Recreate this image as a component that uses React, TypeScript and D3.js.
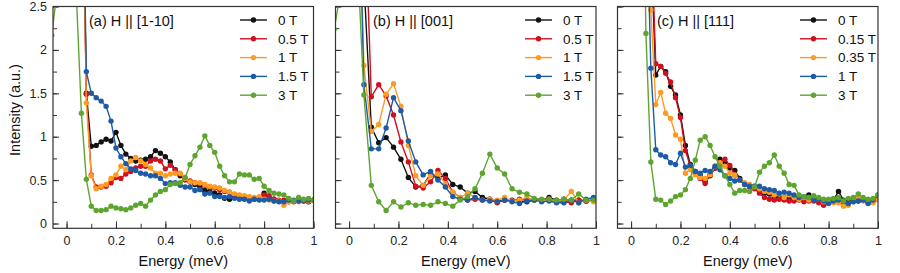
import React, { useEffect, useRef } from 'react';
import * as d3 from 'd3';

// energy grids (meV) for each panel
const energyA = [-0.06, -0.04, -0.02, 0, 0.02, 0.04, 0.06, 0.08, 0.1, 0.12, 0.14, 0.16, 0.18, 0.2, 0.22, 0.24, 0.26, 0.28, 0.3, 0.32, 0.34, 0.36, 0.38, 0.4, 0.42, 0.44, 0.46, 0.48, 0.5, 0.52, 0.54, 0.56, 0.58, 0.6, 0.62, 0.64, 0.66, 0.68, 0.7, 0.72, 0.74, 0.76, 0.78, 0.8, 0.82, 0.84, 0.86, 0.88, 0.9, 0.92, 0.94, 0.96, 0.98, 1.0];
const energyB = [-0.06, -0.03, 0, 0.03, 0.06, 0.09, 0.12, 0.15, 0.18, 0.21, 0.24, 0.27, 0.3, 0.33, 0.36, 0.39, 0.42, 0.45, 0.48, 0.51, 0.54, 0.57, 0.6, 0.63, 0.66, 0.69, 0.72, 0.75, 0.78, 0.81, 0.84, 0.87, 0.9, 0.93, 0.96, 0.99];
const energyC = [0.04, 0.06, 0.08, 0.1, 0.12, 0.14, 0.16, 0.18, 0.2, 0.22, 0.24, 0.26, 0.28, 0.3, 0.32, 0.34, 0.36, 0.38, 0.4, 0.42, 0.44, 0.46, 0.48, 0.5, 0.52, 0.54, 0.56, 0.58, 0.6, 0.62, 0.64, 0.66, 0.68, 0.7, 0.72, 0.74, 0.76, 0.78, 0.8, 0.82, 0.84, 0.86, 0.88, 0.9, 0.92, 0.94, 0.96, 0.98, 1.0];

const fieldsAB = ['0 T', '0.5 T', '1 T', '1.5 T', '3 T'];
const fieldsC = ['0 T', '0.15 T', '0.35 T', '1 T', '3 T'];
const colors = ['#111111', '#d0101e', '#ff9b21', '#1d5ba6', '#5ea52f'];

// (a) H || [1-10]
const a0 = [null, null, null, null, null, null, 5, 1.5, 0.89, 0.9, 0.94, 0.97, 0.95, 1.05, 0.9, 0.8, 0.75, 0.72, 0.73, 0.74, 0.77, 0.84, 0.81, 0.77, 0.71, 0.62, 0.55, 0.52, 0.48, 0.45, 0.42, 0.38, 0.37, 0.35, 0.33, 0.29, 0.28, 0.3, 0.31, 0.31, 0.29, 0.29, 0.3, 0.35, 0.3, 0.28, 0.26, 0.26, 0.27, 0.26, 0.27, 0.26, 0.25, 0.27];
const a05 = [null, null, null, null, null, null, 5, 1.49, 0.56, 0.42, 0.42, 0.43, 0.47, 0.53, 0.52, 0.57, 0.6, 0.64, 0.66, 0.66, 0.72, 0.74, 0.72, 0.63, 0.67, 0.62, 0.57, 0.5, 0.49, 0.47, 0.46, 0.44, 0.42, 0.41, 0.39, 0.37, 0.36, 0.33, 0.32, 0.31, 0.3, 0.28, 0.28, 0.33, 0.32, 0.28, 0.27, 0.27, 0.25, 0.25, 0.26, 0.27, 0.26, 0.27];
const a1 = [null, null, null, null, null, null, 5, 1.39, 0.55, 0.4, 0.43, 0.45, 0.52, 0.56, 0.66, 0.62, 0.72, 0.76, 0.72, 0.68, 0.64, 0.58, 0.58, 0.55, 0.57, 0.58, 0.58, 0.52, 0.48, 0.47, 0.47, 0.45, 0.43, 0.42, 0.41, 0.38, 0.36, 0.34, 0.33, 0.32, 0.31, 0.3, 0.31, 0.28, 0.27, 0.26, 0.26, 0.21, 0.25, 0.26, 0.25, 0.27, 0.26, 0.27];
const a15 = [null, null, null, null, null, null, 5, 1.75, 1.5, 1.45, 1.41, 1.35, 1.18, 0.87, 0.77, 0.69, 0.63, 0.61, 0.58, 0.57, 0.55, 0.55, 0.52, 0.46, 0.47, 0.47, 0.44, 0.42, 0.42, 0.38, 0.39, 0.34, 0.35, 0.31, 0.31, 0.3, 0.31, 0.29, 0.28, 0.28, 0.26, 0.28, 0.27, 0.27, 0.28, 0.26, 0.25, 0.25, 0.27, 0.27, 0.26, 0.27, 0.27, 0.27];
const a3 = [2.17, 2.65, 3.5, 4, 3.5, 2.6, 1.27, 0.51, 0.2, 0.15, 0.15, 0.16, 0.2, 0.18, 0.17, 0.16, 0.18, 0.21, 0.23, 0.2, 0.27, 0.33, 0.37, 0.39, 0.45, 0.46, 0.47, 0.53, 0.68, 0.78, 0.88, 1.01, 0.9, 0.82, 0.66, 0.55, 0.48, 0.48, 0.57, 0.56, 0.56, 0.51, 0.52, 0.43, 0.38, 0.35, 0.34, 0.33, 0.29, 0.26, 0.3, 0.28, 0.29, 0.27];

// (b) H || [001]
const b0 = [null, null, null, 5, 2.8, 1.11, 0.93, 0.99, 0.88, 0.74, 0.53, 0.42, 0.44, 0.57, 0.52, 0.56, 0.45, 0.42, 0.35, 0.37, 0.3, 0.28, 0.26, 0.27, 0.27, 0.26, 0.25, 0.27, 0.27, 0.3, 0.27, 0.28, 0.27, 0.27, 0.26, 0.27];
const b05 = [null, null, null, 6, 4, 1.46, 1.6, 1.47, 1.25, 0.94, 0.71, 0.43, 0.41, 0.48, 0.61, 0.52, 0.36, 0.3, 0.27, 0.28, 0.27, 0.28, 0.24, 0.27, 0.26, 0.28, 0.27, 0.27, 0.27, 0.28, 0.26, 0.25, 0.24, 0.27, 0.26, 0.27];
const b1 = [null, null, null, 5, 1.82, 1.06, 1.14, 1.49, 1.61, 1.35, 0.9, 0.55, 0.44, 0.55, 0.57, 0.46, 0.36, 0.3, 0.35, 0.3, 0.27, 0.28, 0.27, 0.3, 0.26, 0.27, 0.3, 0.27, 0.26, 0.28, 0.26, 0.27, 0.37, 0.24, 0.27, 0.25];
const b15 = [null, null, null, 5, 1.6, 0.86, 0.86, 1.1, 1.45, 1.3, 0.95, 0.71, 0.56, 0.6, 0.5, 0.42, 0.31, 0.28, 0.27, 0.3, 0.27, 0.26, 0.25, 0.27, 0.25, 0.23, 0.26, 0.27, 0.25, 0.26, 0.24, 0.24, 0.27, 0.24, 0.28, 0.3];
const b3 = [2.24, 2.75, 4, 3.3, 1.48, 0.44, 0.25, 0.15, 0.25, 0.19, 0.24, 0.21, 0.22, 0.21, 0.25, 0.23, 0.2, 0.27, 0.31, 0.4, 0.58, 0.8, 0.64, 0.57, 0.4, 0.36, 0.34, 0.29, 0.28, 0.28, 0.27, 0.28, 0.27, 0.34, 0.27, 0.27];

// (c) H || [111]
const c0 = [null, 6, 3.2, 1.71, 1.81, 1.75, 1.58, 1.48, 1.25, 0.9, 0.68, 0.6, 0.55, 0.48, 0.55, 0.64, 0.74, 0.7, 0.64, 0.61, 0.52, 0.46, 0.44, 0.42, 0.38, 0.35, 0.34, 0.3, 0.31, 0.3, 0.29, 0.28, 0.29, 0.29, 0.33, 0.3, 0.28, 0.27, 0.26, 0.27, 0.37, 0.27, 0.25, 0.27, 0.29, 0.28, 0.26, 0.27, 0.3];
const c015 = [null, 6, 3.5, 1.84, 1.81, 1.73, 1.63, 1.45, 1.22, 0.84, 0.66, 0.58, 0.52, 0.46, 0.57, 0.64, 0.7, 0.74, 0.67, 0.56, 0.5, 0.45, 0.42, 0.4, 0.35, 0.3, 0.28, 0.27, 0.28, 0.27, 0.26, 0.26, 0.27, 0.25, 0.26, 0.26, 0.24, 0.21, 0.24, 0.26, 0.25, 0.24, 0.23, 0.26, 0.26, 0.27, 0.24, 0.26, 0.28];
const c035 = [null, 4, 2.46, 1.37, 1.51, 1.27, 1.21, 1.02, 0.97, 0.58, 0.62, 0.56, 0.53, 0.52, 0.56, 0.66, 0.7, 0.66, 0.58, 0.56, 0.5, 0.47, 0.45, 0.43, 0.4, 0.37, 0.36, 0.33, 0.34, 0.3, 0.33, 0.3, 0.28, 0.3, 0.27, 0.29, 0.28, 0.25, 0.26, 0.24, 0.24, 0.2, 0.21, 0.25, 0.3, 0.26, 0.27, 0.24, 0.27];
const c1 = [null, 4, 1.79, 0.85, 0.79, 0.77, 0.7, 0.68, 0.81, 0.65, 0.67, 0.6, 0.58, 0.61, 0.6, 0.66, 0.62, 0.55, 0.52, 0.49, 0.5, 0.45, 0.43, 0.43, 0.43, 0.4, 0.39, 0.38, 0.35, 0.36, 0.35, 0.33, 0.3, 0.31, 0.3, 0.27, 0.28, 0.26, 0.23, 0.26, 0.27, 0.26, 0.23, 0.25, 0.26, 0.27, 0.23, 0.27, 0.33];
const c3 = [6, 2.19, 0.71, 0.28, 0.27, 0.22, 0.26, 0.31, 0.33, 0.39, 0.52, 0.73, 0.96, 1.0, 0.9, 0.77, 0.66, 0.55, 0.45, 0.35, 0.38, 0.38, 0.37, 0.42, 0.59, 0.66, 0.7, 0.79, 0.66, 0.58, 0.45, 0.44, 0.33, 0.31, 0.3, 0.32, 0.3, 0.28, 0.28, 0.29, 0.3, 0.26, 0.29, 0.3, 0.34, 0.3, 0.28, 0.29, 0.33];

const xMajor = [0, 0.2, 0.4, 0.6, 0.8, 1];
const xMinor = [0, 0.1, 0.2, 0.3, 0.4, 0.5, 0.6, 0.7, 0.8, 0.9, 1];
const yMajor = [0, 0.5, 1, 1.5, 2, 2.5];
const yMinor = [0, 0.25, 0.5, 0.75, 1, 1.25, 1.5, 1.75, 2, 2.25, 2.5];

const panels = [
  { id: 'a', title: '(a) H || [1-10]', left: 53, energies: energyA, values: [a0, a05, a1, a15, a3], fields: fieldsAB, legendX: 240, titleX: 89 },
  { id: 'b', title: '(b) H || [001]', left: 335.5, energies: energyB, values: [b0, b05, b1, b15, b3], fields: fieldsAB, legendX: 525, titleX: 373 },
  { id: 'c', title: '(c) H || [111]', left: 617.5, energies: energyC, values: [c0, c015, c035, c1, c3], fields: fieldsC, legendX: 800, titleX: 657 },
];

const FONT = '"Liberation Sans", Arial, Helvetica, sans-serif';

export default function App() {
  const ref = useRef<SVGSVGElement>(null);

  useEffect(() => {
    const svg = d3.select(ref.current);
    svg.selectAll('*').remove();

    const width = 260.5;
    const top = 6.5;
    const bottom = 228.3;

    const y = d3.scaleLinear().domain([-0.055, 2.5]).range([bottom, top]);

    panels.forEach((p, pi) => {
      const x = d3.scaleLinear().domain([-0.055, 1]).range([p.left, p.left + width]);
      const g = svg.append('g');

      g.append('clipPath')
        .attr('id', `clip-${p.id}`)
        .append('rect')
        .attr('x', p.left)
        .attr('y', top)
        .attr('width', width)
        .attr('height', bottom - top);

      // axes (ticks point inward)
      const xMin = g.append('g')
        .attr('transform', `translate(0,${bottom})`)
        .call(d3.axisBottom(x).tickValues(xMinor).tickSize(-4.5).tickFormat(() => ''));
      xMin.select('.domain').remove();

      const xMaj = g.append('g')
        .attr('transform', `translate(0,${bottom})`)
        .call(d3.axisBottom(x).tickValues(xMajor).tickSize(-7).tickPadding(8).tickFormat(d3.format('')));
      xMaj.select('.domain').remove();
      xMaj.selectAll('text').attr('font-size', 12.5).attr('font-family', FONT).attr('fill', '#222');

      const yMin = g.append('g')
        .attr('transform', `translate(${p.left},0)`)
        .call(d3.axisLeft(y).tickValues(yMinor).tickSize(-4).tickFormat(() => ''));
      yMin.select('.domain').remove();

      const yMaj = g.append('g')
        .attr('transform', `translate(${p.left},0)`)
        .call(d3.axisLeft(y).tickValues(yMajor).tickSize(-6).tickPadding(6)
          .tickFormat(pi === 0 ? d3.format('') : () => ''));
      yMaj.select('.domain').remove();
      yMaj.selectAll('text').attr('font-size', 12.5).attr('font-family', FONT).attr('fill', '#222');

      g.selectAll('.tick line').attr('stroke', '#333').attr('stroke-width', 1);

      // data
      const plot = g.append('g').attr('clip-path', `url(#clip-${p.id})`);
      const line = d3.line<[number, number | null]>()
        .defined((d) => d[1] != null)
        .x((d) => x(d[0]))
        .y((d) => y(d[1] as number));

      p.values.forEach((vals, si) => {
        const pts = p.energies.map((e, i) => [e, vals[i]] as [number, number | null]);
        plot.append('path')
          .datum(pts)
          .attr('d', line)
          .attr('fill', 'none')
          .attr('stroke', colors[si])
          .attr('stroke-width', 1.4);
        plot.selectAll(`.pt${si}`)
          .data(pts.filter((d) => d[1] != null))
          .enter()
          .append('circle')
          .attr('class', `pt${si}`)
          .attr('cx', (d) => x(d[0]))
          .attr('cy', (d) => y(d[1] as number))
          .attr('r', 2.7)
          .attr('fill', colors[si]);
      });

      // frame
      g.append('rect')
        .attr('x', p.left)
        .attr('y', top)
        .attr('width', width)
        .attr('height', bottom - top)
        .attr('fill', 'none')
        .attr('stroke', '#333')
        .attr('stroke-width', 1.2);

      // title
      g.append('text')
        .attr('x', p.titleX)
        .attr('y', 26)
        .attr('font-size', 14.5)
        .attr('font-family', FONT)
        .attr('fill', '#111')
        .text(p.title);

      // legend
      p.fields.forEach((f, si) => {
        const ly = 20 + 18.8 * si;
        g.append('line')
          .attr('x1', p.legendX)
          .attr('x2', p.legendX + 27)
          .attr('y1', ly)
          .attr('y2', ly)
          .attr('stroke', colors[si])
          .attr('stroke-width', 1.4);
        g.append('circle')
          .attr('cx', p.legendX + 13.5)
          .attr('cy', ly)
          .attr('r', 2.7)
          .attr('fill', colors[si]);
        g.append('text')
          .attr('x', p.legendX + 38)
          .attr('y', ly)
          .attr('dy', '0.36em')
          .attr('font-size', 13.5)
          .attr('font-family', FONT)
          .attr('fill', '#111')
          .text(f);
      });

      // x label
      g.append('text')
        .attr('x', p.left + width / 2)
        .attr('y', 266)
        .attr('text-anchor', 'middle')
        .attr('font-size', 14.5)
        .attr('font-family', FONT)
        .attr('fill', '#111')
        .text('Energy (meV)');
    });

    svg.append('text')
      .attr('transform', 'translate(20,110) rotate(-90)')
      .attr('text-anchor', 'middle')
      .attr('font-size', 14.5)
      .attr('font-family', FONT)
      .attr('fill', '#111')
      .text('Intensity (a.u.)');
  }, []);

  return (
    <svg
      ref={ref}
      width={900}
      height={273}
      style={{ position: 'absolute', left: 0, top: 0, background: '#fff' }}
    />
  );
}
